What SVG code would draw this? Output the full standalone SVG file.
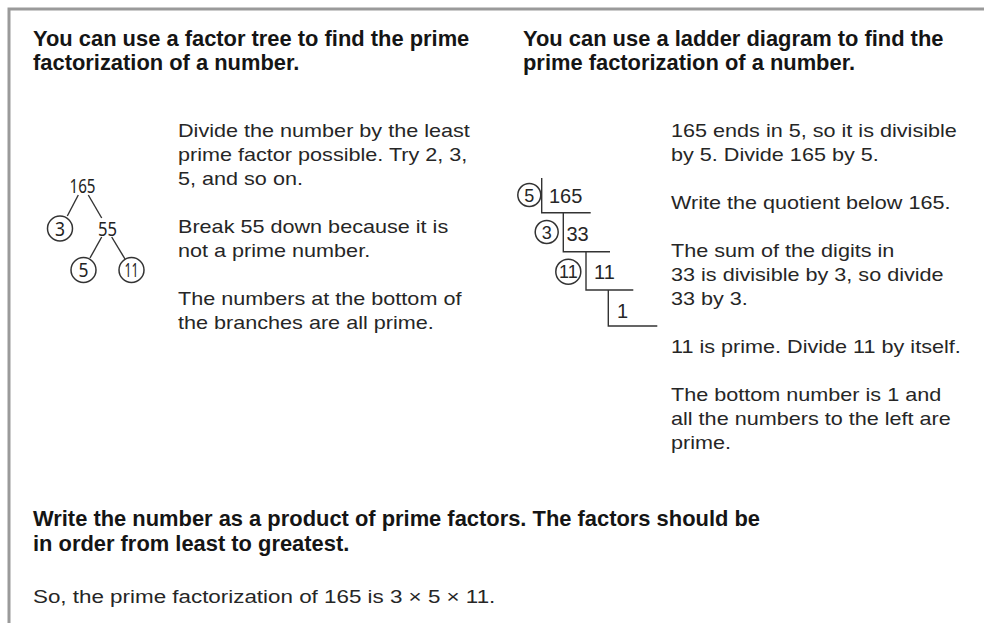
<svg xmlns="http://www.w3.org/2000/svg" width="984" height="623" viewBox="0 0 984 623">
<style>
.h{font-family:"Liberation Sans",Arial,sans-serif;font-weight:bold;font-size:21.9px;fill:#151515}
.b{font-family:"Liberation Sans",Arial,sans-serif;font-size:17.5px;fill:#262626}
.n{font-family:"Liberation Sans",Arial,sans-serif;font-size:20px;fill:#262626}
.c{font-family:"Liberation Sans",Arial,sans-serif;font-size:18px;fill:#262626;text-anchor:middle}
.t{font-family:"Noto Sans",sans-serif;font-size:20px;fill:#222;text-anchor:middle}
.ln{stroke:#333;stroke-width:1.4;fill:none}
.ci{stroke:#333;stroke-width:1.5;fill:none}
</style>
<rect width="984" height="623" fill="#fff"/>
<path d="M984,9 H9 V623" stroke="#9a9a9a" stroke-width="3" fill="none"/>

<g id="heading-left">
<text class="h" x="33" y="46">You can use a factor tree to find the prime</text>
<text class="h" x="33" y="70">factorization of a number.</text>
</g>
<g id="heading-right">
<text class="h" x="523" y="46">You can use a ladder diagram to find the</text>
<text class="h" x="523" y="70">prime factorization of a number.</text>
</g>

<g id="tree-text" transform="translate(178,0) scale(1.235,1)">
<text class="b" x="0" y="137">Divide the number by the least</text>
<text class="b" x="0" y="161">prime factor possible. Try 2, 3,</text>
<text class="b" x="0" y="185">5, and so on.</text>
<text class="b" x="0" y="233">Break 55 down because it is</text>
<text class="b" x="0" y="257">not a prime number.</text>
<text class="b" x="0" y="305">The numbers at the bottom of</text>
<text class="b" x="0" y="329">the branches are all prime.</text>
</g>

<g id="ladder-text" transform="translate(671,0) scale(1.235,1)">
<text class="b" x="0" y="137">165 ends in 5, so it is divisible</text>
<text class="b" x="0" y="161">by 5. Divide 165 by 5.</text>
<text class="b" x="0" y="209">Write the quotient below 165.</text>
<text class="b" x="0" y="257">The sum of the digits in</text>
<text class="b" x="0" y="281">33 is divisible by 3, so divide</text>
<text class="b" x="0" y="305">33 by 3.</text>
<text class="b" x="0" y="353">11 is prime. Divide 11 by itself.</text>
<text class="b" x="0" y="401">The bottom number is 1 and</text>
<text class="b" x="0" y="425">all the numbers to the left are</text>
<text class="b" x="0" y="449">prime.</text>
</g>

<g id="connectors">
<line class="ln" x1="78.3" y1="195" x2="67.3" y2="216"/>
<line class="ln" x1="88.3" y1="195" x2="101.7" y2="218"/>
<line class="ln" x1="101.7" y1="237" x2="90" y2="258"/>
<line class="ln" x1="111.7" y1="237" x2="125" y2="259"/>
</g>

<g id="tree-165"><text class="t" x="82.5" y="193" textLength="26" lengthAdjust="spacingAndGlyphs">165</text></g>
<g id="tree-3"><circle class="ci" cx="60" cy="228.5" r="12.5"/><text class="t" x="60" y="235.5" textLength="10" lengthAdjust="spacingAndGlyphs">3</text></g>
<g id="tree-55"><text class="t" x="107.5" y="235.5" textLength="19" lengthAdjust="spacingAndGlyphs">55</text></g>
<g id="tree-5"><circle class="ci" cx="83.5" cy="270" r="12.5"/><text class="t" x="83.5" y="277" textLength="10" lengthAdjust="spacingAndGlyphs">5</text></g>
<g id="tree-11"><circle class="ci" cx="131.5" cy="270" r="12.5"/><text class="t" x="131.5" y="277" textLength="14" lengthAdjust="spacingAndGlyphs">11</text></g>

<g id="ladder">
<path class="ln" d="M541.7,178 V212.7 H590.7 M563.3,212.7 V251.7 H610 M586,251.7 V290 H633.3 M608.3,290 V326 H657.3"/>
<circle class="ci" cx="529.3" cy="195" r="11.5"/>
<text class="c" x="529.3" y="201.5">5</text>
<text class="n" x="549" y="202.5">165</text>
<circle class="ci" cx="546.7" cy="232" r="11.5"/>
<text class="c" x="546.7" y="238.5">3</text>
<text class="n" x="566.5" y="240.5">33</text>
<circle class="ci" cx="568.3" cy="271.7" r="12.5"/>
<text class="c" x="568.3" y="278.2">11</text>
<text class="n" x="594" y="279">11</text>
<text class="n" x="617" y="317.5">1</text>
</g>

<g id="summary">
<text class="h" x="33" y="526">Write the number as a product of prime factors. The factors should be</text>
<text class="h" x="33" y="551">in order from least to greatest.</text>
<g transform="translate(33,0) scale(1.28,1)"><text class="b" x="0" y="603">So, the prime factorization of 165 is 3 × 5 × 11.</text></g>
</g>
</svg>
